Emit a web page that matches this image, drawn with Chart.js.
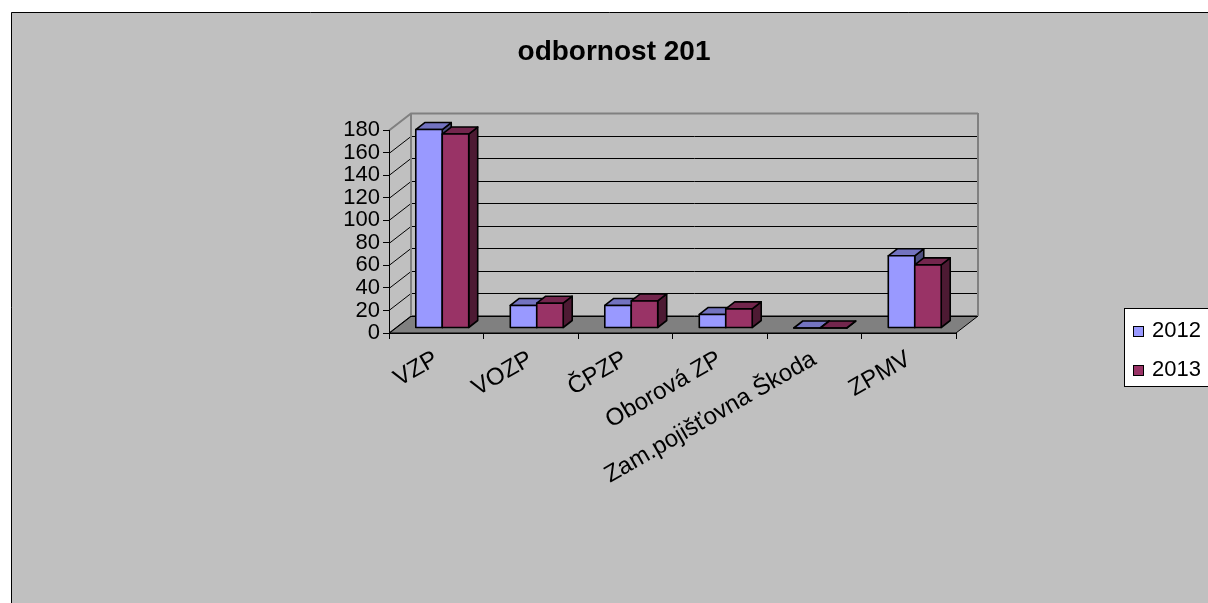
<!DOCTYPE html>
<html>
<head>
<meta charset="utf-8">
<script src="https://cdn.jsdelivr.net/npm/chart.js@4"></script>
<style>
  body { margin: 0; background: #fff; }
  canvas { display: block; }
</style>
</head>
<body>
<canvas id="odbChart" width="1208" height="603"></canvas>
<script>
const categories = ['VZP', 'VOZP', 'ČPZP', 'Oborová ZP', 'Zam.pojišťovna Škoda', 'ZPMV'];
const values2012 = [176, 20, 20, 12, 0, 64];
const values2013 = [172, 22, 24, 17, 0, 56];
const seriesNames = ['2012', '2013'];
const titleText = 'odbornost 201';

const FONT = '"Liberation Sans", Arial, sans-serif';
// 3d look: bar depth and back wall depth
const BAR_DX = 9, BAR_DY = -7;
const BAR_OX = 6, BAR_OY = -5;
const WALL_DX = 22, WALL_DY = -17;

const faces = [
  { front: '#9999FF', top: '#7373C0', side: '#4D4D80' },
  { front: '#993366', top: '#73264D', side: '#4D1A33' }
];

function poly(ctx, pts, fill, stroke, lw) {
  ctx.beginPath();
  ctx.moveTo(pts[0][0], pts[0][1]);
  for (let i = 1; i < pts.length; i++) ctx.lineTo(pts[i][0], pts[i][1]);
  ctx.closePath();
  if (fill) { ctx.fillStyle = fill; ctx.fill(); }
  if (stroke) { ctx.strokeStyle = stroke; ctx.lineWidth = lw || 1; ctx.stroke(); }
}

const scenePlugin = {
  id: 'scene',
  beforeDraw(chart) {
    const ctx = chart.ctx;
    const a = chart.chartArea;
    const y = chart.scales.y;
    ctx.save();
    ctx.fillStyle = '#fff';
    ctx.fillRect(0, 0, chart.width, chart.height);
    ctx.fillStyle = '#C0C0C0';
    ctx.fillRect(11, 12, chart.width, chart.height);
    ctx.strokeStyle = '#000';
    ctx.lineWidth = 1;
    ctx.beginPath();
    ctx.moveTo(11.5, chart.height);
    ctx.lineTo(11.5, 12.5);
    ctx.lineTo(chart.width, 12.5);
    ctx.stroke();

    // floor
    poly(ctx, [[a.left, a.bottom], [a.right, a.bottom], [a.right + WALL_DX, a.bottom + WALL_DY], [a.left + WALL_DX, a.bottom + WALL_DY]], '#808080', '#000', 1);

    // grid on back wall and side wall
    y.ticks.forEach(t => {
      const py = Math.round(y.getPixelForValue(t.value)) + 0.5;
      const isTop = t.value === y.max;
      ctx.strokeStyle = isTop ? '#808080' : '#000';
      ctx.lineWidth = isTop ? 2 : 1;
      ctx.beginPath();
      ctx.moveTo(a.left, py);
      ctx.lineTo(a.left + WALL_DX, py + WALL_DY);
      ctx.lineTo(a.right + WALL_DX, py + WALL_DY);
      ctx.stroke();
    });
    ctx.strokeStyle = '#808080';
    ctx.lineWidth = 2;
    ctx.beginPath();
    ctx.moveTo(a.left + WALL_DX, a.top + WALL_DY);
    ctx.lineTo(a.left + WALL_DX, a.bottom + WALL_DY);
    ctx.moveTo(a.right + WALL_DX, a.top + WALL_DY);
    ctx.lineTo(a.right + WALL_DX, a.bottom + WALL_DY);
    ctx.stroke();

    // title
    ctx.fillStyle = '#000';
    ctx.font = 'bold 28px ' + FONT;
    ctx.textAlign = 'center';
    ctx.textBaseline = 'middle';
    ctx.fillText(titleText, 614, 52);
    ctx.restore();
  },
  beforeDatasetsDraw(chart) {
    const ctx = chart.ctx;
    ctx.save();
    ctx.lineJoin = 'round';
    for (let i = 0; i < categories.length; i++) {
      chart.data.datasets.forEach((ds, d) => {
        const el = chart.getDatasetMeta(d).data[i];
        const f = faces[d];
        const l = el.x - el.width / 2 + BAR_OX;
        const r = el.x + el.width / 2 + BAR_OX;
        const t = el.y + BAR_OY;
        const b = el.base + BAR_OY;
        poly(ctx, [[r, t], [r + BAR_DX, t + BAR_DY], [r + BAR_DX, b + BAR_DY], [r, b]], f.side, '#000', 1.6);
        poly(ctx, [[l, t], [l + BAR_DX, t + BAR_DY], [r + BAR_DX, t + BAR_DY], [r, t]], f.top, '#000', 1.6);
        poly(ctx, [[l, t], [r, t], [r, b], [l, b]], f.front, '#000', 1.6);
      });
    }
    ctx.restore();
    return false;
  },
  afterDraw(chart) {
    const ctx = chart.ctx;
    ctx.save();
    ctx.fillStyle = '#fff';
    ctx.fillRect(1124, 308, 100, 78);
    ctx.strokeStyle = '#000';
    ctx.lineWidth = 1;
    ctx.strokeRect(1124.5, 308.5, 100, 78);
    ctx.font = '22px ' + FONT;
    ctx.textAlign = 'left';
    ctx.textBaseline = 'middle';
    chart.data.datasets.forEach((ds, d) => {
      const cy = 331 + d * 39;
      ctx.fillStyle = ds.backgroundColor;
      ctx.fillRect(1133, cy - 5, 10, 10);
      ctx.strokeRect(1133.5, cy - 4.5, 10, 10);
      ctx.fillStyle = '#000';
      ctx.fillText(ds.label, 1152, cy);
    });
    ctx.restore();
  }
};

new Chart(document.getElementById('odbChart'), {
  type: 'bar',
  data: {
    labels: categories,
    datasets: [
      { label: seriesNames[0], data: values2012, backgroundColor: faces[0].front },
      { label: seriesNames[1], data: values2013, backgroundColor: faces[1].front }
    ]
  },
  options: {
    responsive: false,
    animation: false,
    devicePixelRatio: 1,
    categoryPercentage: 0.56,
    barPercentage: 1,
    layout: { padding: { left: 0, top: 130, right: 252, bottom: 0 } },
    plugins: {
      legend: { display: false },
      title: { display: false },
      tooltip: { enabled: false }
    },
    scales: {
      x: {
        afterFit(s) { s.height = 270; },
        grid: { drawOnChartArea: false, tickLength: 6, color: '#000', offset: true },
        border: { color: '#000', width: 1 },
        ticks: { color: '#000', font: { family: FONT, size: 24 }, minRotation: 30, maxRotation: 30, autoSkip: false, padding: 6 }
      },
      y: {
        min: 0,
        max: 180,
        afterFit(s) { s.width = 389; },
        grid: { drawOnChartArea: false, tickLength: 6, color: '#000' },
        border: { color: '#000', width: 1 },
        ticks: { stepSize: 20, color: '#000', font: { family: FONT, size: 22 }, autoSkip: false, padding: 3 }
      }
    }
  },
  plugins: [scenePlugin]
});
</script>
</body>
</html>
